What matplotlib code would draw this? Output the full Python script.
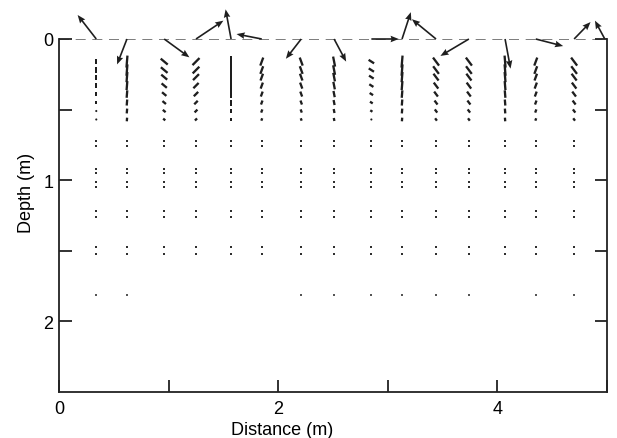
import numpy as np
import matplotlib.pyplot as plt

plt.rcParams['font.family'] = ['Liberation Sans', 'DejaVu Sans']

# surface velocity arrows (distance in m, components in m of plot length)
surf_x = [0.34, 0.62, 0.96, 1.25, 1.57, 1.85, 2.21, 2.51, 2.85, 3.13, 3.44, 3.74, 4.07, 4.35, 4.70, 4.98]
surf_u = [-0.17, -0.09, 0.23, 0.25, -0.05, -0.23, -0.14, 0.11, 0.25, 0.08, -0.22, -0.26, 0.05, 0.25, 0.15, -0.09]
surf_w = [-0.17, 0.18, 0.13, -0.13, -0.21, -0.035, 0.14, 0.16, 0.0, -0.19, -0.14, 0.12, 0.21, 0.05, -0.12, -0.13]

# subsurface columns, top-row vector direction/size
col_x = [0.34, 0.62, 0.96, 1.25, 1.57, 1.85, 2.21, 2.51, 2.85, 3.13, 3.44, 3.74, 4.07, 4.35, 4.70]
col_u = [0.0, -0.009, 0.064, -0.064, 0.0, -0.027, 0.027, 0.018, 0.05, -0.009, 0.055, 0.055, 0.009, -0.027, 0.055]
col_w = [0.04, 0.085, 0.042, 0.05, 0.085, 0.057, 0.057, 0.071, 0.025, 0.085, 0.057, 0.057, 0.085, 0.057, 0.057]

# near-surface rows and their relative amplitude
row_depth = [0.16, 0.22, 0.27, 0.33, 0.39, 0.45, 0.51, 0.57]
row_amp = [1.0, 0.95, 0.85, 0.75, 0.62, 0.5, 0.4, 0.3]

# deeper rows where motion is tiny (dots)
deep_depth = [0.72, 0.76, 0.92, 0.95, 1.01, 1.05, 1.22, 1.26, 1.47, 1.52]
last_depth = 1.81
last_x = [0.34, 0.62, 2.21, 2.51, 2.85, 3.13, 3.44, 3.74, 4.35, 4.70]

fig = plt.figure(figsize=(6.17, 4.39), dpi=100)
ax = fig.add_axes([59/617, 46/439, 548/617, 353/439])
ax.set_xlim(0, 5)
ax.set_ylim(2.5, 0)

ax.axhline(0, ls=(0, (6, 4)), color='#666666', lw=1.2, zorder=1)

# subsurface vectors
X, D, U, W = [], [], [], []
for i, x in enumerate(col_x):
    for d, a in zip(row_depth, row_amp):
        X.append(x); D.append(d)
        U.append(col_u[i]*a); W.append(col_w[i]*a)
ax.quiver(X, D, U, W, angles='xy', scale_units='xy', scale=1, pivot='mid',
          width=0.0042, headwidth=1, headlength=0, headaxislength=0, color='#1e1e1e')

# deep dots
gx, gd = np.meshgrid(col_x, deep_depth)
ax.scatter(gx.ravel(), gd.ravel(), s=4, marker='s', color='#2e2e2e', linewidths=0)
ax.scatter(last_x, [last_depth]*len(last_x), s=3, marker='s', color='#555555', linewidths=0)

# surface arrows
q = ax.quiver(surf_x, [0]*len(surf_x), surf_u, surf_w, angles='xy', scale_units='xy', scale=1,
              width=0.003, headwidth=4, headlength=5, headaxislength=4.5, color='#1e1e1e')
q.set_clip_on(False)

ax.spines['top'].set_visible(False)
for s in ['left', 'right', 'bottom']:
    ax.spines[s].set_linewidth(1.3)
    ax.spines[s].set_color('#222222')

ax.set_xticks([0, 1, 2, 3, 4, 5])
ax.set_xticklabels(['0', '', '2', '', '4', ''])
ax.set_yticks([0, 0.5, 1, 1.5, 2])
ax.set_yticklabels(['0', '', '1', '', '2'])
ax.tick_params(direction='in', length=9, width=1.3, right=True, top=False, labelsize=13, color='#222222')
ax.tick_params(axis='x', pad=6)
ax.tick_params(axis='y', pad=4)

ax.set_xlabel('Distance (m)', fontsize=13)
ax.xaxis.set_label_coords(0.407, -0.105)
ax.xaxis.label.set_va('center')
ax.set_ylabel('Depth (m)', fontsize=13)
ax.yaxis.set_label_coords(-0.06, 0.567)
ax.yaxis.label.set_va('center')

fig.savefig('out.png', dpi=100)
